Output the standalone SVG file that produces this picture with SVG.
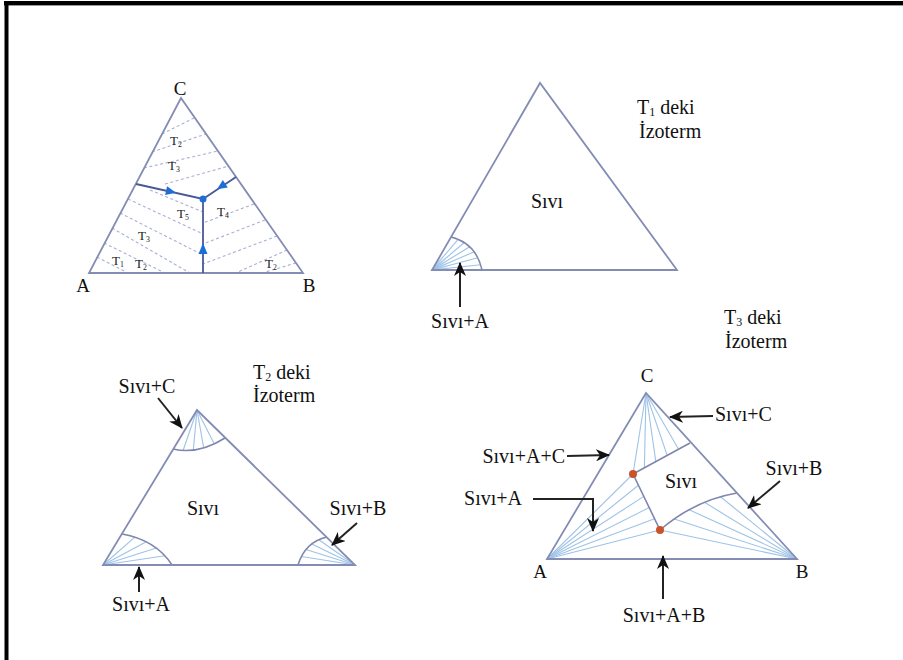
<svg xmlns="http://www.w3.org/2000/svg" width="903" height="660" viewBox="0 0 903 660">
<defs>
<marker id="ah" markerUnits="userSpaceOnUse" markerWidth="14" markerHeight="12" refX="13" refY="6" orient="auto">
<path d="M0,0 L14,6 L0,12 L4,6 Z" fill="#111"/>
</marker>
<radialGradient id="glow">
<stop offset="0" stop-color="#5d95e0" stop-opacity="0.55"/>
<stop offset="1" stop-color="#5d95e0" stop-opacity="0"/>
</radialGradient>
<clipPath id="clipT1"><polygon points="432,270 677,270 540,83"/></clipPath>
<style>
.edge{fill:none;stroke:#858cb4;stroke-width:1.8}
.fan{fill:none;stroke:#9ec3e6;stroke-width:1.1}
.arc{fill:none;stroke:#7f86ad;stroke-width:1.6}
.dash{fill:none;stroke:#a9b0d4;stroke-width:1.1;stroke-dasharray:3 2.5}
.bnd{fill:none;stroke:#4a5896;stroke-width:1.8}
.bh{fill:#1d6fd6}
.arr{fill:none;stroke:#222;stroke-width:2;marker-end:url(#ah)}
.t{font-family:"Liberation Serif","Times New Roman",serif;font-size:20px;fill:#111}
.s{font-family:"Liberation Serif","Times New Roman",serif;font-size:13px;fill:#222}
.sub{font-size:60%}
</style>
</defs>
<rect width="903" height="660" fill="#fff"/>
<line x1="4" y1="3" x2="903" y2="3" stroke="#000" stroke-width="4"/>
<line x1="4" y1="5.5" x2="903" y2="5.5" stroke="#999" stroke-width="1"/>
<line x1="6.5" y1="1" x2="6.5" y2="660" stroke="#000" stroke-width="4"/>

<!-- Panel 1: projection -->
<g id="panel-projection">
<g id="proj-dashes">
<line class="dash" x1="162" y1="134" x2="194" y2="118"/>
<line class="dash" x1="152" y1="152" x2="206" y2="134"/>
<line class="dash" x1="144" y1="168" x2="218" y2="151"/>
<line class="dash" x1="165" y1="184" x2="229" y2="166"/>
<line class="dash" x1="150" y1="190" x2="203" y2="212"/>
<line class="dash" x1="128" y1="199" x2="203" y2="234"/>
<line class="dash" x1="120" y1="213" x2="203" y2="255"/>
<line class="dash" x1="112" y1="228" x2="190" y2="273"/>
<line class="dash" x1="104" y1="243" x2="165" y2="273"/>
<line class="dash" x1="97" y1="257" x2="128" y2="273"/>
<line class="dash" x1="254" y1="204" x2="203" y2="223"/>
<line class="dash" x1="265" y1="220" x2="203" y2="244"/>
<line class="dash" x1="277" y1="236" x2="203" y2="264"/>
<line class="dash" x1="287" y1="250" x2="236" y2="273"/>
<line class="dash" x1="296" y1="263" x2="262" y2="273"/>
</g>
<polygon class="edge" points="89,273 303,273 181,98"/>
<g id="proj-boundaries">
<polyline class="bnd" points="136,184 203,199 236,177"/>
<line class="bnd" x1="203" y1="199" x2="203" y2="273"/>
<circle class="bh" cx="203" cy="199" r="3.5"/>
<polygon class="bh" points="176,192.8 165.1,195 167.1,186.2"/>
<polygon class="bh" points="217,189.3 227.8,187.5 222.8,180.1"/>
<polygon class="bh" points="203,243 198.5,254 207.5,254"/>
</g>
<text class="t" x="180" y="95" text-anchor="middle" style="font-size:19px">C</text>
<text class="t" x="83" y="292" text-anchor="middle" style="font-size:19px">A</text>
<text class="t" x="309" y="292" text-anchor="middle" style="font-size:19px">B</text>
<text class="s" x="170" y="145">T<tspan class="sub" dy="2">2</tspan></text>
<text class="s" x="168" y="170">T<tspan class="sub" dy="2">3</tspan></text>
<text class="s" x="177" y="218">T<tspan class="sub" dy="2">5</tspan></text>
<text class="s" x="217" y="216">T<tspan class="sub" dy="2">4</tspan></text>
<text class="s" x="138" y="240">T<tspan class="sub" dy="2">3</tspan></text>
<text class="s" x="112" y="265">T<tspan class="sub" dy="2">1</tspan></text>
<text class="s" x="135" y="268">T<tspan class="sub" dy="2">2</tspan></text>
<text class="s" x="265" y="268">T<tspan class="sub" dy="2">2</tspan></text>
</g>

<!-- Panel 2: T1 isotherm -->
<g id="panel-t1">
<circle cx="432" cy="270" r="18" fill="url(#glow)" clip-path="url(#clipT1)"/>
<g id="t1-fan">
<line class="fan" x1="432" y1="270" x2="458.1" y2="239.3"/>
<line class="fan" x1="432" y1="270" x2="464.3" y2="242.5"/>
<line class="fan" x1="432" y1="270" x2="469.7" y2="246.7"/>
<line class="fan" x1="432" y1="270" x2="474.2" y2="251.8"/>
<line class="fan" x1="432" y1="270" x2="477.8" y2="257.8"/>
<line class="fan" x1="432" y1="270" x2="480.6" y2="264.8"/>
<path class="arc" d="M451,237 Q476,243 482,270"/>
</g>
<polygon class="edge" points="432,270 677,270 540,83"/>
<text class="t" x="547" y="208" text-anchor="middle">Sıvı</text>
<text class="t" x="637" y="114">T<tspan class="sub" dy="2">1</tspan><tspan dy="-2"> deki</tspan></text>
<text class="t" x="639" y="138">İzoterm</text>
<text class="t" x="460" y="328" text-anchor="middle">Sıvı+A</text>
</g>

<!-- Panel 3: T2 isotherm -->
<g id="panel-t2">
<g id="t2-fans">
<line class="fan" x1="197" y1="410" x2="183.1" y2="450.5"/>
<line class="fan" x1="197" y1="410" x2="193.3" y2="450.1"/>
<line class="fan" x1="197" y1="410" x2="203.7" y2="447.9"/>
<line class="fan" x1="197" y1="410" x2="214.3" y2="443.9"/>
<path class="arc" d="M173,449 Q198,455 225,438"/>
<line class="fan" x1="103" y1="565" x2="134.9" y2="537.2"/>
<line class="fan" x1="103" y1="565" x2="146.3" y2="541.8"/>
<line class="fan" x1="103" y1="565" x2="156.3" y2="548"/>
<line class="fan" x1="103" y1="565" x2="164.9" y2="555.8"/>
<path class="arc" d="M122,534 Q156,540 172,565"/>
<line class="fan" x1="355" y1="565" x2="301.4" y2="556.5"/>
<line class="fan" x1="355" y1="565" x2="306" y2="549.5"/>
<line class="fan" x1="355" y1="565" x2="311.8" y2="543.9"/>
<line class="fan" x1="355" y1="565" x2="318.8" y2="539.7"/>
<path class="arc" d="M298,565 Q305,542 327,537"/>
</g>
<polygon class="edge" points="103,565 355,565 197,410"/>
<text class="t" x="203" y="515" text-anchor="middle">Sıvı</text>
<text class="t" x="253" y="379">T<tspan class="sub" dy="2">2</tspan><tspan dy="-2"> deki</tspan></text>
<text class="t" x="253" y="402">İzoterm</text>
<text class="t" x="147" y="393" text-anchor="middle">Sıvı+C</text>
<text class="t" x="358" y="515" text-anchor="middle">Sıvı+B</text>
<text class="t" x="141" y="611" text-anchor="middle">Sıvı+A</text>
</g>

<!-- Panel 4: T3 isotherm -->
<g id="panel-t3">
<g id="t3-fans">
<line class="fan" x1="646" y1="393" x2="644.4" y2="467.8"/>
<line class="fan" x1="646" y1="393" x2="655.8" y2="461.6"/>
<line class="fan" x1="646" y1="393" x2="667.2" y2="455.4"/>
<line class="fan" x1="646" y1="393" x2="678.6" y2="449.2"/>
<line class="fan" x1="646" y1="393" x2="633" y2="474"/>
<line class="fan" x1="547" y1="559" x2="633" y2="474"/>
<line class="fan" x1="547" y1="559" x2="638.4" y2="485.2"/>
<line class="fan" x1="547" y1="559" x2="643.8" y2="496.4"/>
<line class="fan" x1="547" y1="559" x2="649.2" y2="507.6"/>
<line class="fan" x1="547" y1="559" x2="654.6" y2="518.8"/>
<line class="fan" x1="547" y1="559" x2="660" y2="530"/>
<line class="fan" x1="797" y1="559" x2="660" y2="530"/>
<line class="fan" x1="797" y1="559" x2="674.3" y2="518.9"/>
<line class="fan" x1="797" y1="559" x2="689.1" y2="509.7"/>
<line class="fan" x1="797" y1="559" x2="704.5" y2="502.3"/>
<line class="fan" x1="797" y1="559" x2="720.5" y2="496.7"/>
</g>
<g id="t3-boundaries">
<line class="arc" x1="633" y1="474" x2="690" y2="443"/>
<line class="arc" x1="633" y1="474" x2="660" y2="530"/>
<path class="arc" d="M660,530 Q695,500 737,493"/>
</g>
<polygon class="edge" points="547,559 797,559 646,393"/>
<circle cx="633" cy="474" r="4" fill="#c9542b"/>
<circle cx="660" cy="530" r="4" fill="#c9542b"/>
<text class="t" x="647" y="382" text-anchor="middle" style="font-size:19px">C</text>
<text class="t" x="540" y="578" text-anchor="middle" style="font-size:19px">A</text>
<text class="t" x="802" y="578" text-anchor="middle" style="font-size:19px">B</text>
<text class="t" x="681" y="488" text-anchor="middle">Sıvı</text>
<text class="t" x="724" y="324">T<tspan class="sub" dy="2">3</tspan><tspan dy="-2"> deki</tspan></text>
<text class="t" x="725" y="348">İzoterm</text>
<text class="t" x="715" y="421">Sıvı+C</text>
<text class="t" x="565" y="463" text-anchor="end">Sıvı+A+C</text>
<text class="t" x="522" y="505" text-anchor="end">Sıvı+A</text>
<text class="t" x="794" y="475" text-anchor="middle">Sıvı+B</text>
<text class="t" x="664" y="622" text-anchor="middle">Sıvı+A+B</text>
</g>

<g id="connectors">
<line class="arr" x1="460" y1="307" x2="460" y2="263"/>
<line class="arr" x1="158" y1="398" x2="182" y2="428"/>
<line class="arr" x1="357" y1="523" x2="332" y2="545"/>
<line class="arr" x1="139" y1="592" x2="139" y2="567"/>
<line class="arr" x1="713" y1="416" x2="670" y2="417"/>
<line class="arr" x1="567" y1="456" x2="609" y2="455"/>
<polyline class="arr" points="533,499 593,499 593,531"/>
<line class="arr" x1="780" y1="481" x2="748" y2="508"/>
<line class="arr" x1="663" y1="599" x2="663" y2="556"/>
</g>
</svg>
